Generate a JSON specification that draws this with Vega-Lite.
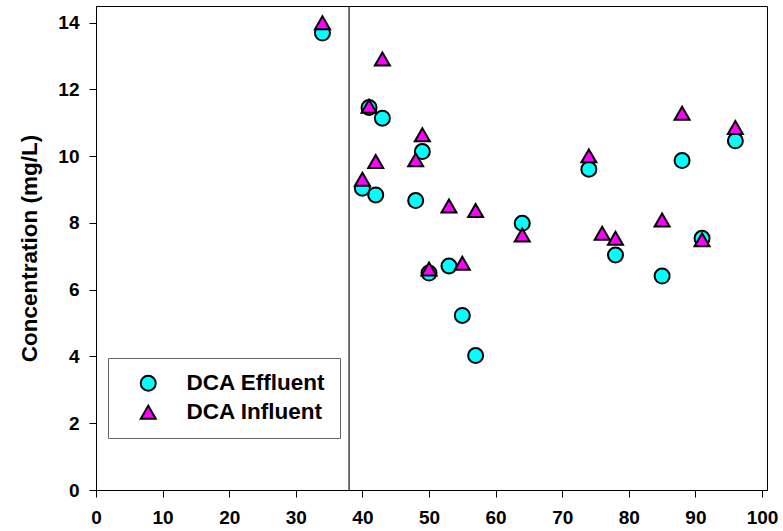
{
  "$schema": "https://vega.github.io/schema/vega-lite/v6.json",
  "autosize": {"type": "none"},
  "padding": {"left": 96, "top": 6, "right": 16, "bottom": 41},
  "width": 671,
  "height": 484,
  "background": "white",
  "config": {
    "font": "Liberation Sans",
    "view": {"stroke": "black", "strokeWidth": 1},
    "axis": {
      "grid": false,
      "labelFont": "Liberation Sans",
      "labelFontSize": 19,
      "labelFontWeight": "bold",
      "labelColor": "black",
      "domainColor": "black",
      "tickColor": "black",
      "tickSize": 7,
      "titleFont": "Liberation Sans",
      "titleFontWeight": "bold",
      "titleColor": "black"
    }
  },
  "layer": [
    {
      "data": {"values": [{"time": 38}]},
      "mark": {"type": "rule", "color": "#222", "strokeWidth": 1.3},
      "encoding": {
        "x": {"field": "time", "type": "quantitative", "scale": {"domain": [0, 100.75], "nice": false}}
      }
    },
    {
      "data": {
        "values": [
          {"time": 34, "concentration": 13.69, "series": "DCA Effluent"},
          {"time": 40, "concentration": 9.04, "series": "DCA Effluent"},
          {"time": 41, "concentration": 11.46, "series": "DCA Effluent"},
          {"time": 42, "concentration": 8.84, "series": "DCA Effluent"},
          {"time": 43, "concentration": 11.14, "series": "DCA Effluent"},
          {"time": 48, "concentration": 8.67, "series": "DCA Effluent"},
          {"time": 49, "concentration": 10.14, "series": "DCA Effluent"},
          {"time": 50, "concentration": 6.50, "series": "DCA Effluent"},
          {"time": 53, "concentration": 6.71, "series": "DCA Effluent"},
          {"time": 55, "concentration": 5.23, "series": "DCA Effluent"},
          {"time": 57, "concentration": 4.03, "series": "DCA Effluent"},
          {"time": 64, "concentration": 7.99, "series": "DCA Effluent"},
          {"time": 74, "concentration": 9.61, "series": "DCA Effluent"},
          {"time": 78, "concentration": 7.04, "series": "DCA Effluent"},
          {"time": 85, "concentration": 6.41, "series": "DCA Effluent"},
          {"time": 88, "concentration": 9.87, "series": "DCA Effluent"},
          {"time": 91, "concentration": 7.54, "series": "DCA Effluent"},
          {"time": 96, "concentration": 10.46, "series": "DCA Effluent"},
          {"time": 34, "concentration": 14.0, "series": "DCA Influent"},
          {"time": 40, "concentration": 9.31, "series": "DCA Influent"},
          {"time": 41, "concentration": 11.5, "series": "DCA Influent"},
          {"time": 42, "concentration": 9.84, "series": "DCA Influent"},
          {"time": 43, "concentration": 12.91, "series": "DCA Influent"},
          {"time": 48, "concentration": 9.89, "series": "DCA Influent"},
          {"time": 49, "concentration": 10.64, "series": "DCA Influent"},
          {"time": 50, "concentration": 6.62, "series": "DCA Influent"},
          {"time": 53, "concentration": 8.51, "series": "DCA Influent"},
          {"time": 55, "concentration": 6.79, "series": "DCA Influent"},
          {"time": 57, "concentration": 8.37, "series": "DCA Influent"},
          {"time": 64, "concentration": 7.64, "series": "DCA Influent"},
          {"time": 74, "concentration": 10.01, "series": "DCA Influent"},
          {"time": 76, "concentration": 7.69, "series": "DCA Influent"},
          {"time": 78, "concentration": 7.54, "series": "DCA Influent"},
          {"time": 85, "concentration": 8.09, "series": "DCA Influent"},
          {"time": 88, "concentration": 11.29, "series": "DCA Influent"},
          {"time": 91, "concentration": 7.50, "series": "DCA Influent"},
          {"time": 96, "concentration": 10.86, "series": "DCA Influent"}
        ]
      },
      "mark": {"type": "point", "filled": true, "opacity": 1, "stroke": "black", "strokeWidth": 2, "size": 225},
      "encoding": {
        "x": {
          "field": "time", "type": "quantitative",
          "scale": {"domain": [0, 100.75], "nice": false},
          "axis": {"values": [0, 10, 20, 30, 40, 50, 60, 70, 80, 90, 100], "title": null, "labelPadding": 11, "labelFlush": false}
        },
        "y": {
          "field": "concentration", "type": "quantitative",
          "scale": {"domain": [0, 14.5], "nice": false},
          "axis": {"values": [0, 2, 4, 6, 8, 10, 12, 14], "title": "Concentration (mg/L)", "titleFontSize": 22.5, "titlePadding": 16, "labelPadding": 10, "labelFlush": false}
        },
        "fill": {
          "field": "series", "type": "nominal",
          "scale": {"domain": ["DCA Effluent", "DCA Influent"], "range": ["#00FFFF", "#FF00FF"]},
          "legend": {
            "title": null, "orient": "none", "legendX": 12, "legendY": 352,
            "strokeColor": "#666", "fillColor": "white", "padding": 14,
            "labelFont": "Liberation Sans", "labelFontSize": 22.5, "labelFontWeight": "bold", "labelColor": "black",
            "symbolSize": 225, "symbolStrokeColor": "black", "symbolStrokeWidth": 2, "symbolOpacity": 1,
            "symbolOffset": 15, "labelOffset": 27, "rowPadding": 6
          }
        },
        "shape": {
          "field": "series", "type": "nominal",
          "scale": {"domain": ["DCA Effluent", "DCA Influent"], "range": ["circle", "triangle-up"]}
        },
        "order": {"field": "series", "sort": "ascending"}
      }
    }
  ]
}
